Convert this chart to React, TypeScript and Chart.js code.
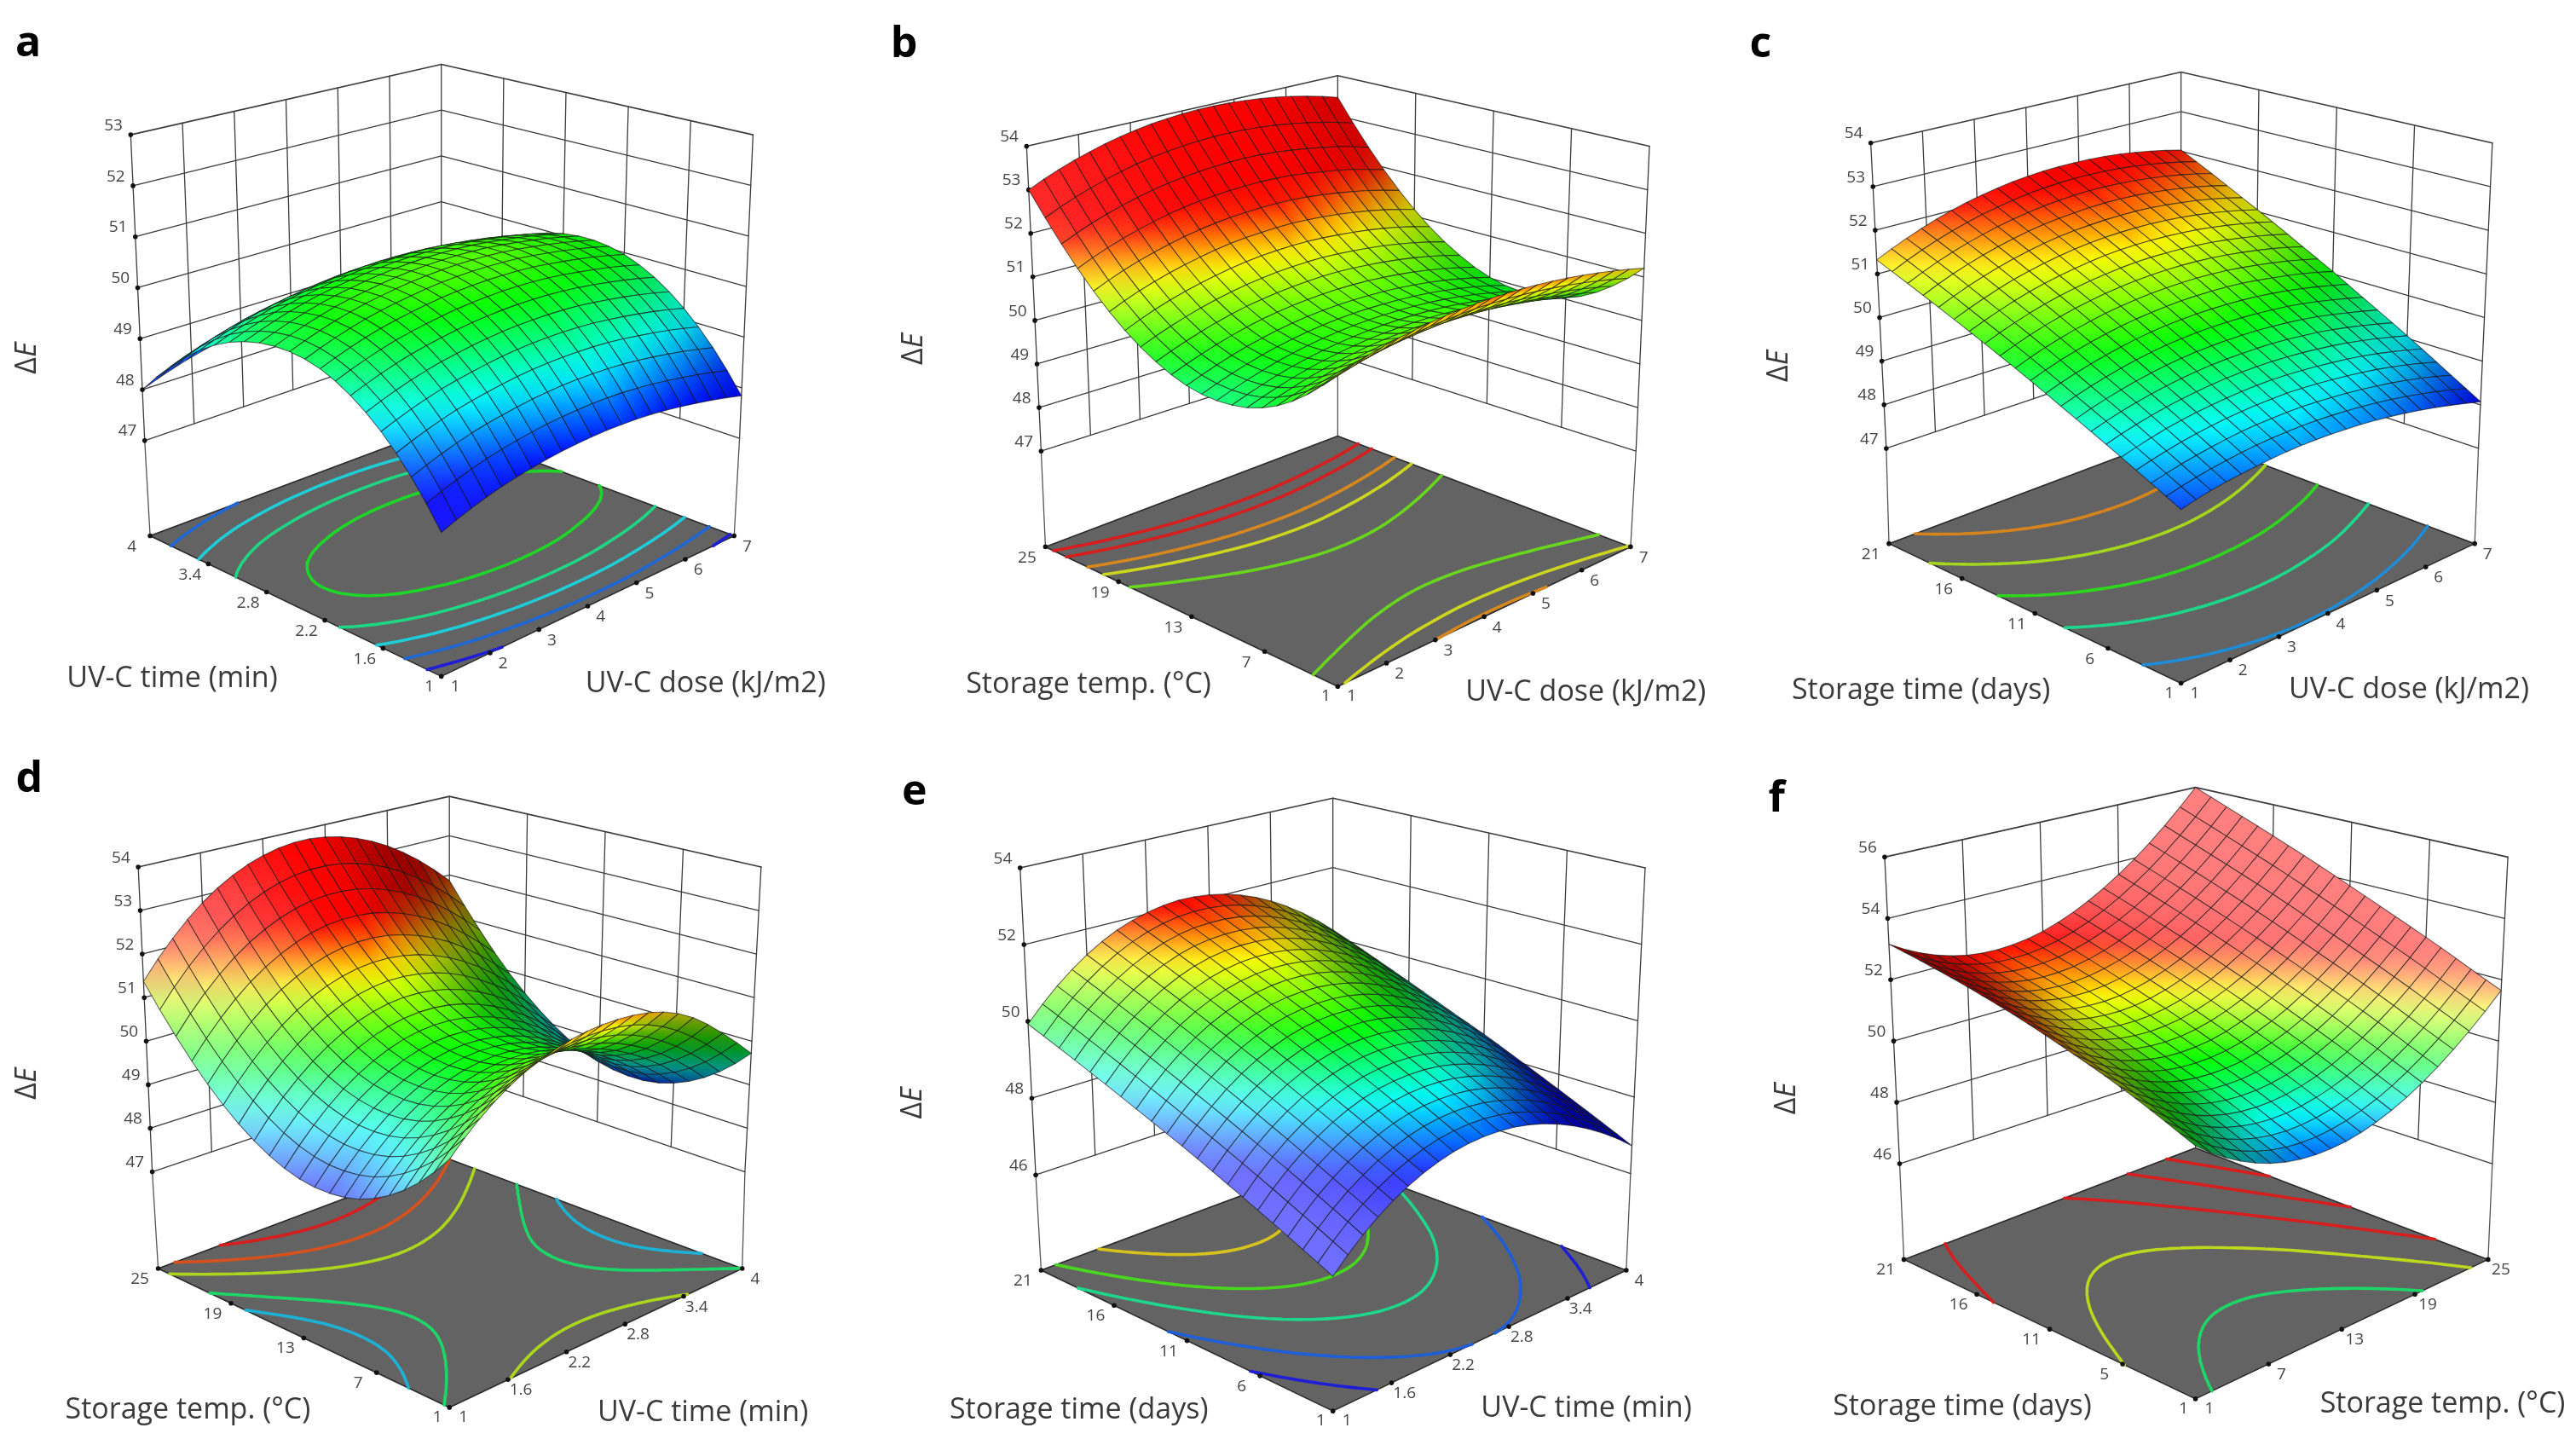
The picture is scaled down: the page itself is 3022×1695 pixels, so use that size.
import { useEffect, useRef } from 'react';
import { Chart, registerables } from 'chart.js';
Chart.register(...registerables);

const doseTicks = ['1', '2', '3', '4', '5', '6', '7'];
const timeTicks = ['1', '1.6', '2.2', '2.8', '3.4', '4'];
const tempTicks = ['1', '7', '13', '19', '25'];
const daysTicks = ['1', '6', '11', '16', '21'];
const daysTicksF = ['1', '5', '11', '16', '21'];
const deltaTicks47to53 = [47, 48, 49, 50, 51, 52, 53];
const deltaTicks47to54 = [47, 48, 49, 50, 51, 52, 53, 54];
const deltaTicks46to54 = [46, 48, 50, 52, 54];
const deltaTicks46to56 = [46, 48, 50, 52, 54, 56];

// ΔE read from each surface at 11 x 11 nodes: rows follow the left-hand factor, columns the right-hand factor.
const surfaceA = [
  [47.56, 47.77, 47.94, 48.06, 48.15, 48.20, 48.21, 48.18, 48.10, 47.99, 47.84],
  [48.33, 48.54, 48.71, 48.83, 48.92, 48.97, 48.98, 48.95, 48.87, 48.76, 48.61],
  [48.94, 49.15, 49.32, 49.44, 49.53, 49.58, 49.59, 49.56, 49.48, 49.37, 49.22],
  [49.39, 49.60, 49.77, 49.89, 49.98, 50.03, 50.04, 50.01, 49.93, 49.82, 49.67],
  [49.68, 49.89, 50.06, 50.18, 50.27, 50.32, 50.33, 50.30, 50.22, 50.11, 49.96],
  [49.80, 50.01, 50.18, 50.30, 50.39, 50.44, 50.45, 50.42, 50.34, 50.23, 50.08],
  [49.76, 49.97, 50.14, 50.26, 50.35, 50.40, 50.41, 50.38, 50.30, 50.19, 50.04],
  [49.57, 49.78, 49.95, 50.07, 50.16, 50.21, 50.22, 50.19, 50.11, 50.00, 49.85],
  [49.21, 49.42, 49.59, 49.71, 49.80, 49.85, 49.86, 49.83, 49.75, 49.64, 49.49],
  [48.68, 48.89, 49.06, 49.18, 49.27, 49.32, 49.33, 49.30, 49.22, 49.11, 48.96],
  [48.00, 48.21, 48.38, 48.50, 48.59, 48.64, 48.65, 48.62, 48.54, 48.43, 48.28],
];
const surfaceB = [
  [51.10, 51.29, 51.44, 51.55, 51.62, 51.65, 51.64, 51.59, 51.50, 51.37, 51.20],
  [50.46, 50.66, 50.82, 50.94, 51.01, 51.05, 51.04, 50.99, 50.90, 50.77, 50.60],
  [50.00, 50.21, 50.38, 50.51, 50.59, 50.63, 50.62, 50.57, 50.48, 50.35, 50.17],
  [49.73, 49.95, 50.13, 50.26, 50.35, 50.39, 50.39, 50.35, 50.25, 50.12, 49.94],
  [49.65, 49.88, 50.07, 50.21, 50.30, 50.35, 50.35, 50.31, 50.22, 50.08, 49.89],
  [49.74, 49.98, 50.18, 50.33, 50.43, 50.48, 50.48, 50.44, 50.35, 50.21, 50.02],
  [50.03, 50.28, 50.49, 50.65, 50.75, 50.81, 50.82, 50.77, 50.68, 50.54, 50.35],
  [50.49, 50.76, 50.97, 51.13, 51.25, 51.31, 51.32, 51.27, 51.18, 51.04, 50.84],
  [51.14, 51.42, 51.64, 51.81, 51.93, 51.99, 52.01, 51.97, 51.87, 51.73, 51.53],
  [51.98, 52.27, 52.50, 52.68, 52.80, 52.87, 52.89, 52.85, 52.75, 52.61, 52.40],
  [53.00, 53.30, 53.54, 53.73, 53.86, 53.93, 53.95, 53.91, 53.82, 53.67, 53.46],
];
const surfaceC = [
  [48.31, 48.46, 48.56, 48.63, 48.67, 48.66, 48.62, 48.54, 48.42, 48.26, 48.07],
  [48.61, 48.77, 48.89, 48.98, 49.02, 49.03, 48.99, 48.92, 48.81, 48.66, 48.46],
  [48.91, 49.09, 49.23, 49.32, 49.38, 49.40, 49.37, 49.30, 49.20, 49.05, 48.86],
  [49.21, 49.41, 49.56, 49.67, 49.74, 49.76, 49.75, 49.69, 49.59, 49.44, 49.26],
  [49.51, 49.72, 49.89, 50.02, 50.10, 50.13, 50.12, 50.07, 49.98, 49.83, 49.65],
  [49.82, 50.05, 50.23, 50.37, 50.46, 50.51, 50.51, 50.47, 50.37, 50.24, 50.06],
  [50.12, 50.37, 50.57, 50.72, 50.82, 50.88, 50.89, 50.85, 50.76, 50.63, 50.45],
  [50.42, 50.68, 50.90, 51.06, 51.18, 51.25, 51.26, 51.23, 51.15, 51.02, 50.85],
  [50.72, 51.00, 51.23, 51.41, 51.54, 51.61, 51.64, 51.62, 51.54, 51.42, 51.24],
  [51.02, 51.32, 51.56, 51.75, 51.89, 51.98, 52.02, 52.00, 51.93, 51.81, 51.64],
  [51.32, 51.63, 51.89, 52.10, 52.25, 52.35, 52.39, 52.38, 52.32, 52.20, 52.03],
];
const surfaceD = [
  [49.84, 50.45, 50.92, 51.25, 51.46, 51.55, 51.53, 51.38, 51.02, 50.43, 49.72],
  [49.13, 49.76, 50.25, 50.60, 50.81, 50.90, 50.86, 50.67, 50.30, 49.77, 49.09],
  [48.62, 49.27, 49.78, 50.14, 50.36, 50.44, 50.37, 50.15, 49.80, 49.30, 48.65],
  [48.29, 48.96, 49.49, 49.87, 50.10, 50.18, 50.12, 49.91, 49.55, 49.04, 48.39],
  [48.16, 48.85, 49.40, 49.79, 50.03, 50.13, 50.07, 49.86, 49.50, 48.99, 48.33],
  [48.21, 48.92, 49.49, 49.89, 50.15, 50.25, 50.19, 49.98, 49.62, 49.11, 48.44],
  [48.46, 49.19, 49.77, 50.19, 50.46, 50.57, 50.52, 50.31, 49.95, 49.43, 48.75],
  [48.90, 49.66, 50.25, 50.69, 50.96, 51.08, 51.03, 50.83, 50.46, 49.94, 49.25],
  [49.53, 50.30, 50.92, 51.36, 51.65, 51.77, 51.73, 51.52, 51.16, 50.62, 49.93],
  [50.36, 51.15, 51.78, 52.24, 52.54, 52.67, 52.63, 52.42, 52.05, 51.51, 50.81],
  [51.37, 52.18, 52.83, 53.30, 53.60, 53.74, 53.70, 53.49, 53.12, 52.57, 51.86],
];
const surfaceE = [
  [46.54, 47.22, 47.75, 48.13, 48.37, 48.46, 48.41, 48.21, 47.86, 47.37, 46.73],
  [46.88, 47.57, 48.10, 48.49, 48.74, 48.83, 48.78, 48.57, 48.22, 47.73, 47.08],
  [47.22, 47.92, 48.46, 48.86, 49.11, 49.20, 49.15, 48.94, 48.59, 48.08, 47.43],
  [47.56, 48.27, 48.82, 49.22, 49.47, 49.57, 49.52, 49.31, 48.95, 48.44, 47.78],
  [47.90, 48.62, 49.18, 49.59, 49.84, 49.94, 49.89, 49.68, 49.32, 48.80, 48.13],
  [48.24, 48.97, 49.54, 49.95, 50.21, 50.31, 50.26, 50.05, 49.68, 49.16, 48.48],
  [48.57, 49.31, 49.89, 50.31, 50.57, 50.67, 50.62, 50.41, 50.03, 49.50, 48.81],
  [48.91, 49.66, 50.25, 50.67, 50.94, 51.04, 50.99, 50.77, 50.40, 49.86, 49.16],
  [49.25, 50.01, 50.60, 51.04, 51.31, 51.41, 51.36, 51.14, 50.76, 50.22, 49.51],
  [49.59, 50.36, 50.96, 51.40, 51.68, 51.78, 51.73, 51.51, 51.12, 50.57, 49.86],
  [49.93, 50.71, 51.32, 51.77, 52.04, 52.16, 52.10, 51.88, 51.49, 50.93, 50.21],
];
const surfaceF = [
  [50.10, 49.43, 48.94, 48.63, 48.51, 48.57, 48.82, 49.25, 49.87, 50.67, 51.65],
  [50.50, 49.83, 49.34, 49.04, 48.92, 48.99, 49.24, 49.67, 50.29, 51.09, 52.08],
  [50.89, 50.23, 49.74, 49.45, 49.34, 49.41, 49.66, 50.10, 50.73, 51.53, 52.53],
  [51.25, 50.59, 50.12, 49.83, 49.73, 49.80, 50.07, 50.51, 51.15, 51.96, 52.96],
  [51.58, 50.93, 50.47, 50.19, 50.10, 50.18, 50.46, 50.91, 51.56, 52.38, 53.39],
  [51.90, 51.26, 50.81, 50.55, 50.46, 50.56, 50.85, 51.32, 51.97, 52.80, 53.83],
  [52.20, 51.58, 51.14, 50.89, 50.82, 50.93, 51.23, 51.71, 52.38, 53.23, 54.27],
  [52.47, 51.86, 51.44, 51.21, 51.15, 51.28, 51.60, 52.10, 52.78, 53.65, 54.70],
  [52.72, 52.13, 51.73, 51.51, 51.48, 51.63, 51.96, 52.48, 53.18, 54.06, 55.13],
  [52.95, 52.38, 52.00, 51.80, 51.79, 51.96, 52.31, 52.85, 53.57, 54.47, 55.56],
  [53.16, 52.62, 52.26, 52.08, 52.09, 52.28, 52.66, 53.22, 53.96, 54.89, 56.00],
];

const contourLevelsA = [47.951, 48.501, 49.051, 49.551, 50.051];
const contourLevelsB = [50.551, 51.151, 51.581, 52.251, 52.701];
const contourLevelsC = [48.701, 49.501, 50.201, 50.901, 51.601];
const contourLevelsD = [48.901, 49.701, 50.951, 51.851, 52.901];
const contourLevelsE = [47.501, 48.451, 49.501, 50.351, 51.301];
const contourLevelsF = [49.701, 51.051, 52.451, 53.701, 54.901];

const colorStops = [48.1, 49.1, 50.1, 51.2, 52.1];
const colorValues = [[0, 0, 255], [0, 255, 255], [0, 255, 0], [255, 255, 0], [255, 0, 0]];

// All layout numbers live in a 1568 x 1568 view space that is stretched over each panel's canvas.
const VIEW = 1568;
type Pt = [number, number];
type Quad = { F: Pt; R: Pt; L: Pt; B: Pt };
type Panel = {
  letter: string; surface: number[][]; levels: number[];
  uTicks: string[]; vTicks: string[]; zTicks: number[];
  uTitle: string; vTitle: string;
  rect: [number, number, number, number];
  top: Quad; bot: Quad; floor: Quad;
  letterAt: Pt; deltaAt: Pt; uTitleAt: Pt; vTitleAt: Pt;
};

const panels: Panel[] = [
  {
    letter: 'a', surface: surfaceA, levels: contourLevelsA, uTicks: doseTicks, vTicks: timeTicks, zTicks: deltaTicks47to53,
    uTitle: 'UV-C dose (kJ/m2)', vTitle: 'UV-C time (min)', rect: [0, 0, 1000, 850],
    top: { F: [812, 481], R: [1390, 287], L: [236, 287], B: [812, 133] },
    bot: { F: [812, 1225], R: [1365, 950], L: [262, 955], B: [812, 733] },
    floor: { F: [812, 1470], R: [1355, 1163], L: [272, 1163], B: [812, 925] },
    letterAt: [46, 88], deltaAt: [44, 775], uTitleAt: [1302, 1487], vTitleAt: [313, 1475],
  },
  {
    letter: 'b', surface: surfaceB, levels: contourLevelsB, uTicks: doseTicks, vTicks: tempTicks, zTicks: deltaTicks47to54,
    uTitle: 'UV-C dose (kJ/m2)', vTitle: 'Storage temp. (°C)', rect: [1020, 0, 1000, 850],
    top: { F: [862, 506], R: [1440, 312], L: [285, 312], B: [862, 158] },
    bot: { F: [862, 1240], R: [1415, 978], L: [312, 978], B: [862, 770] },
    floor: { F: [862, 1492], R: [1405, 1187], L: [320, 1187], B: [862, 945] },
    letterAt: [58, 90], deltaAt: [76, 755], uTitleAt: [1322, 1505], vTitleAt: [400, 1488],
  },
  {
    letter: 'c', surface: surfaceC, levels: contourLevelsC, uTicks: doseTicks, vTicks: daysTicks, zTicks: deltaTicks47to54,
    uTitle: 'UV-C dose (kJ/m2)', vTitle: 'Storage time (days)', rect: [2030, 0, 992, 850],
    top: { F: [836, 500], R: [1418, 305], L: [256, 305], B: [836, 150] },
    bot: { F: [836, 1245], R: [1392, 972], L: [285, 972], B: [836, 755] },
    floor: { F: [836, 1485], R: [1385, 1180], L: [290, 1180], B: [836, 940] },
    letterAt: [50, 90], deltaAt: [85, 792], uTitleAt: [1262, 1500], vTitleAt: [350, 1502],
  },
  {
    letter: 'd', surface: surfaceD, levels: contourLevelsD, uTicks: timeTicks, vTicks: tempTicks, zTicks: deltaTicks47to54,
    uTitle: 'UV-C time (min)', vTitle: 'Storage temp. (°C)', rect: [0, 860, 1000, 835],
    top: { F: [827, 488], R: [1405, 290], L: [250, 290], B: [827, 133] },
    bot: { F: [827, 1249], R: [1375, 968], L: [276, 968], B: [827, 745] },
    floor: { F: [827, 1492], R: [1370, 1183], L: [287, 1183], B: [827, 940] },
    letterAt: [48, 97], deltaAt: [45, 772], uTitleAt: [1297, 1505], vTitleAt: [342, 1498],
  },
  {
    letter: 'e', surface: surfaceE, levels: contourLevelsE, uTicks: timeTicks, vTicks: daysTicks, zTicks: deltaTicks46to54,
    uTitle: 'UV-C time (min)', vTitle: 'Storage time (days)', rect: [1020, 860, 1000, 835],
    top: { F: [853, 487], R: [1432, 292], L: [273, 292], B: [853, 137] },
    bot: { F: [853, 1252], R: [1405, 972], L: [302, 975], B: [853, 755] },
    floor: { F: [853, 1500], R: [1397, 1187], L: [312, 1187], B: [853, 945] },
    letterAt: [77, 125], deltaAt: [75, 815], uTitleAt: [1323, 1495], vTitleAt: [382, 1498],
  },
  {
    letter: 'f', surface: surfaceF, levels: contourLevelsF, uTicks: tempTicks, vTicks: daysTicksF, zTicks: deltaTicks46to56,
    uTitle: 'Storage temp. (°C)', vTitle: 'Storage time (days)', rect: [2030, 860, 992, 835],
    top: { F: [863, 463], R: [1447, 268], L: [282, 268], B: [863, 113] },
    bot: { F: [863, 1221], R: [1418, 950], L: [310, 950], B: [863, 735] },
    floor: { F: [863, 1473], R: [1410, 1163], L: [318, 1163], B: [863, 915] },
    letterAt: [80, 140], deltaAt: [100, 805], uTitleAt: [1325, 1485], vTitleAt: [427, 1490],
  },
];

const bilinear = (q: Quad, u: number, v: number): Pt => {
  const w = [(1 - u) * (1 - v), u * (1 - v), (1 - u) * v, u * v];
  return [
    w[0] * q.F[0] + w[1] * q.R[0] + w[2] * q.L[0] + w[3] * q.B[0],
    w[0] * q.F[1] + w[1] * q.R[1] + w[2] * q.L[1] + w[3] * q.B[1],
  ];
};

// Smooth tessellation through the read nodes (the surface counterpart of a line's `tension`).
const midpoints = (a: number[]) => {
  const out: number[] = [];
  const n = a.length;
  for (let i = 0; i < n; i++) {
    out.push(a[i]);
    if (i === n - 1) break;
    if (i === 0) out.push((3 * a[0] + 6 * a[1] - a[2]) / 8);
    else if (i === n - 2) out.push((3 * a[n - 1] + 6 * a[n - 2] - a[n - 3]) / 8);
    else out.push((-a[i - 1] + 9 * a[i] + 9 * a[i + 1] - a[i + 2]) / 16);
  }
  return out;
};
const tessellate = (g: number[][]) => {
  const rows = g.map(midpoints);
  const cols = rows[0].map((_, i) => midpoints(rows.map((r) => r[i])));
  return cols[0].map((_, j) => cols.map((c) => c[j]));
};

const colorAt = (z: number) => {
  if (z <= colorStops[0]) return colorValues[0];
  for (let i = 1; i < colorStops.length; i++) {
    if (z <= colorStops[i]) {
      const t = (z - colorStops[i - 1]) / (colorStops[i] - colorStops[i - 1]);
      return colorValues[i].map((c, k) => colorValues[i - 1][k] + (c - colorValues[i - 1][k]) * t);
    }
  }
  return colorValues[colorValues.length - 1];
};
// The surfaces are lit from the low end of the right-hand factor: rising cells pale, falling cells darken.
const shade = (rgb: number[], slope: number) => {
  const c = slope >= 0
    ? rgb.map((x) => x + (255 - x) * 0.5 * (1 - Math.exp(-((slope / 5) ** 2))))
    : rgb.map((x) => x * (1 - 0.42 * (1 - Math.exp(-((slope / 3) ** 2)))));
  return `rgb(${Math.round(c[0])},${Math.round(c[1])},${Math.round(c[2])})`;
};
const contourColor = (z: number) => {
  const c = colorAt(z).map((x) => x * 0.72 + 30);
  return `rgb(${Math.round(c[0])},${Math.round(c[1])},${Math.round(c[2])})`;
};

const stroke = (data: { x: number; y: number }[], color: string, width: number, extra: object = {}) => ({
  data, showLine: true, pointRadius: 0, borderColor: color, borderWidth: width, fill: false, tension: 0,
  borderJoinStyle: 'round', borderCapStyle: 'round', spanGaps: false, ...extra,
});
const xy = (p: Pt) => ({ x: p[0], y: p[1] });

function buildDatasets(p: Panel, ctx: CanvasRenderingContext2D) {
  const zTop = p.zTicks[p.zTicks.length - 1];
  const zBot = p.zTicks[0];
  const at = (u: number, v: number, z: number): Pt => {
    const a = bilinear(p.top, u, v);
    const b = bilinear(p.bot, u, v);
    const t = (zTop - z) / (zTop - zBot);
    return [a[0] + (b[0] - a[0]) * t, a[1] + (b[1] - a[1]) * t];
  };
  const layers: any[] = [];
  const nu = p.uTicks.length - 1;
  const nv = p.vTicks.length - 1;
  const wall = '#3c3c3c';
  for (const z of p.zTicks) {
    layers.push(stroke([at(0, 1, z), at(1, 1, z), at(1, 0, z)].map(xy), wall, z === zTop ? 1.6 : 1.3));
  }
  for (let k = 0; k <= nu; k++) layers.push(stroke([at(k / nu, 1, zTop), at(k / nu, 1, zBot)].map(xy), wall, 1.3));
  for (let k = 0; k < nv; k++) layers.push(stroke([at(1, k / nv, zTop), at(1, k / nv, zBot)].map(xy), wall, 1.3));
  layers.push(stroke([at(0, 1, zBot), p.floor.L].map(xy), '#555', 1.3));
  layers.push(stroke([at(1, 0, zBot), p.floor.R].map(xy), '#555', 1.3));
  layers.push(stroke([at(1, 1, zBot), p.floor.B].map(xy), '#555', 1.3));
  layers.push(stroke([p.floor.F, p.floor.R, p.floor.B, p.floor.L, p.floor.F].map(xy), '#2a2a2a', 1.6, {
    fill: 'shape', backgroundColor: '#636363',
  }));

  const fine = tessellate(tessellate(p.surface));
  const nf = fine.length - 1;
  p.levels.forEach((level) => {
    const pts: { x: number; y: number }[] = [];
    for (let j = 0; j < nf; j++) {
      for (let i = 0; i < nf; i++) {
        const c = [fine[j][i], fine[j][i + 1], fine[j + 1][i + 1], fine[j + 1][i]];
        const corners = [[i, j], [i + 1, j], [i + 1, j + 1], [i, j + 1]];
        const hits: Pt[] = [];
        for (let e = 0; e < 4; e++) {
          const a = c[e];
          const b = c[(e + 1) % 4];
          if ((a - level) * (b - level) < 0) {
            const t = (level - a) / (b - a);
            const ca = corners[e];
            const cb = corners[(e + 1) % 4];
            hits.push(bilinear(p.floor, (ca[0] + (cb[0] - ca[0]) * t) / nf, (ca[1] + (cb[1] - ca[1]) * t) / nf));
          }
        }
        for (let h = 0; h + 1 < hits.length; h += 2) {
          pts.push(xy(hits[h]), xy(hits[h + 1]), { x: NaN, y: NaN });
        }
      }
    }
    layers.push(stroke(pts, contourColor(level), 3.6));
  });

  const uDots: Pt[] = [];
  for (let k = 0; k <= nu; k++) uDots.push(bilinear(p.floor, k / nu, 0));
  for (let k = 1; k <= nv; k++) uDots.push(bilinear(p.floor, 0, k / nv));
  for (const z of p.zTicks) uDots.push(at(0, 1, z));
  layers.push({
    data: uDots.map(xy), showLine: false, pointRadius: 2.8, pointBackgroundColor: '#111', pointBorderWidth: 0,
  });

  const mesh = tessellate(p.surface);
  const n = mesh.length - 1;
  const W = p.rect[2] / VIEW;
  const H = p.rect[3] / VIEW;
  const slopeAt = (j: number, i: number) => {
    const a = mesh[j][Math.max(0, i - 1)];
    const b = mesh[j][Math.min(n, i + 1)];
    return (b - a) / ((Math.min(n, i + 1) - Math.max(0, i - 1)) / n);
  };
  const cells: { depth: number; ds: any }[] = [];
  for (let j = 0; j < n; j++) {
    for (let i = 0; i < n; i++) {
      const nodes = [[i, j], [i + 1, j], [i + 1, j + 1], [i, j + 1]];
      const screen = nodes.map(([a, b]) => at(a / n, b / n, mesh[b][a]));
      const values = nodes.map(([a, b]) => mesh[b][a]);
      const lo = values.indexOf(Math.min(...values));
      const hi = values.indexOf(Math.max(...values));
      const colorOf = (k: number) => shade(colorAt(values[k]), slopeAt(nodes[k][1], nodes[k][0]));
      const grad = ctx.createLinearGradient(screen[lo][0] * W, screen[lo][1] * H, screen[hi][0] * W, screen[hi][1] * H);
      grad.addColorStop(0, colorOf(lo));
      grad.addColorStop(1, colorOf(hi));
      cells.push({
        depth: i + j,
        ds: stroke([...screen, screen[0]].map(xy), 'rgba(20,20,20,0.62)', 1.1, { fill: 'shape', backgroundColor: grad }),
      });
    }
  }
  cells.sort((a, b) => b.depth - a.depth);
  cells.forEach((c) => layers.push(c.ds));
  return layers.reverse();
}

const labelsPlugin = (p: Panel) => ({
  id: `labels-${p.letter}`,
  afterDatasetsDraw(chart: any) {
    const { ctx, scales } = chart;
    const zTop = p.zTicks[p.zTicks.length - 1];
    const zBot = p.zTicks[0];
    const X = (v: number) => scales.x.getPixelForValue(v);
    const Y = (v: number) => scales.y.getPixelForValue(v);
    ctx.save();
    ctx.textAlign = 'center';
    ctx.textBaseline = 'middle';
    const put = (t: string, a: Pt, font: string, color: string) => {
      ctx.font = font;
      ctx.fillStyle = color;
      ctx.fillText(t, X(a[0]), Y(a[1]));
    };
    const small = '19px "Open Sans"';
    const big = '34px "Open Sans"';
    p.uTicks.forEach((t, k) => {
      const q = bilinear(p.floor, k / (p.uTicks.length - 1), 0);
      put(t, [q[0] + (k === 0 ? 26 : 24), q[1] + (k === 0 ? 22 : 24)], small, '#444');
    });
    p.vTicks.forEach((t, k) => {
      const q = bilinear(p.floor, 0, k / (p.vTicks.length - 1));
      put(t, [q[0] - (k === 0 ? 22 : 34), q[1] + (k === 0 ? 22 : 24)], small, '#444');
    });
    p.zTicks.forEach((z) => {
      const s = (zTop - z) / (zTop - zBot);
      const x = p.top.L[0] + (p.bot.L[0] - p.top.L[0]) * s;
      const y = p.top.L[1] + (p.bot.L[1] - p.top.L[1]) * s;
      put(String(z), [x - 32, y - 20], small, '#444');
    });
    put(p.uTitle, p.uTitleAt, big, '#3a3a3a');
    put(p.vTitle, p.vTitleAt, big, '#3a3a3a');
    put(p.letter, p.letterAt, 'bold 50px "Open Sans"', '#000');
    ctx.translate(X(p.deltaAt[0]), Y(p.deltaAt[1]));
    ctx.rotate(-Math.PI / 2);
    ctx.fillStyle = '#3a3a3a';
    ctx.textAlign = 'left';
    ctx.font = big;
    const w1 = ctx.measureText('Δ').width;
    ctx.font = `italic ${big}`;
    const w2 = ctx.measureText('E').width;
    const start = -(w1 + w2) / 2;
    ctx.font = big;
    ctx.fillText('Δ', start, 0);
    ctx.font = `italic ${big}`;
    ctx.fillText('E', start + w1, 0);
    ctx.restore();
  },
});

function SurfacePanel({ panel }: { panel: Panel }) {
  const ref = useRef<HTMLCanvasElement>(null);
  useEffect(() => {
    const canvas = ref.current as HTMLCanvasElement;
    const chart = new Chart(canvas, {
      type: 'scatter',
      data: { datasets: buildDatasets(panel, canvas.getContext('2d') as CanvasRenderingContext2D) },
      options: {
        animation: false,
        responsive: false,
        events: [],
        layout: { padding: 0 },
        scales: {
          x: { type: 'linear', display: false, min: 0, max: VIEW },
          y: { type: 'linear', display: false, min: 0, max: VIEW, reverse: true },
        },
        plugins: { legend: { display: false }, tooltip: { enabled: false } },
      },
      plugins: [labelsPlugin(panel)],
    } as any);
    return () => chart.destroy();
  }, [panel]);
  const [x, y, w, h] = panel.rect;
  return <canvas ref={ref} width={w} height={h} style={{ position: 'absolute', left: x, top: y, width: w, height: h }} />;
}

export default function App() {
  return (
    <div style={{ position: 'absolute', left: 0, top: 0, width: 3022, height: 1695, background: '#fff', overflow: 'hidden' }}>
      {panels.map((p) => <SurfacePanel key={p.letter} panel={p} />)}
    </div>
  );
}
